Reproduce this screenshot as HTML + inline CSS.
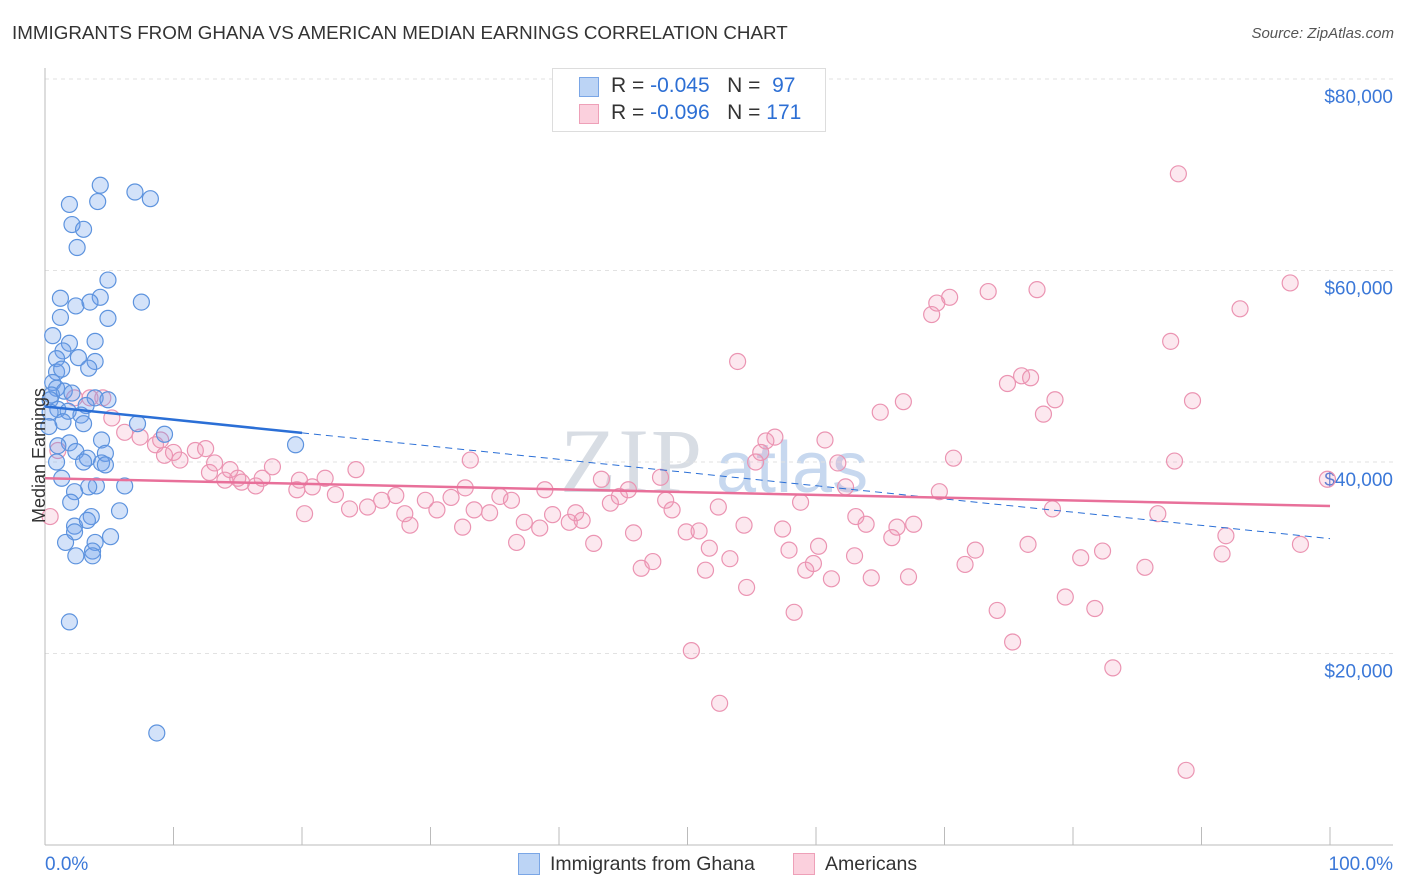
<!DOCTYPE html>
<html><head><meta charset="utf-8">
<style>
body{margin:0;background:#fff;font-family:"Liberation Sans",sans-serif;}
#wrap{position:relative;width:1406px;height:892px;overflow:hidden;}
.t{position:absolute;white-space:nowrap;}
</style></head>
<body>
<div id="wrap">
<div class="t" style="left:12px;top:22px;font-size:18.8px;color:#333;">IMMIGRANTS FROM GHANA VS AMERICAN MEDIAN EARNINGS CORRELATION CHART</div>
<div class="t" style="right:12px;top:25px;font-size:15px;color:#555;font-style:italic;">Source: ZipAtlas.com</div>
<svg id="chart" width="1406" height="892" style="position:absolute;left:0;top:0">
<text x="560" y="492" font-size="92" fill="#d8dde4" font-family="Liberation Serif" letter-spacing="2">ZIP</text>
<text x="716" y="492" font-size="72" fill="#c7d8ef" font-family="Liberation Sans">atlas</text>
</svg>
<div class="t" style="left:-28px;top:445px;font-size:18px;color:#333;transform:rotate(-90deg);">Median Earnings</div>
<div style="position:absolute;left:552px;top:68px;width:272px;height:62px;border:1px solid #ddd;background:#fff;">
 <div style="position:absolute;left:26px;top:8px;width:18px;height:18px;background:#bcd4f5;border:1px solid #7aa6e6;"></div>
 <div class="t" style="left:58px;top:5px;font-size:21px;color:#333;">R = <span style="color:#2d6fd4">-0.045</span> &nbsp;&nbsp;N = &nbsp;<span style="color:#2d6fd4">97</span></div>
 <div style="position:absolute;left:26px;top:35px;width:18px;height:18px;background:#fbd0dd;border:1px solid #eea0b8;"></div>
 <div class="t" style="left:58px;top:32px;font-size:21px;color:#333;">R = <span style="color:#2d6fd4">-0.096</span> &nbsp;&nbsp;N = <span style="color:#2d6fd4">171</span></div>
</div>
<div style="position:absolute;left:518px;top:853px;width:20px;height:20px;background:#bcd4f5;border:1px solid #7aa6e6;"></div>
<div class="t" style="left:550px;top:853px;font-size:19.5px;color:#333;">Immigrants from Ghana</div>
<div style="position:absolute;left:793px;top:853px;width:20px;height:20px;background:#fbd0dd;border:1px solid #eea0b8;"></div>
<div class="t" style="left:825px;top:853px;font-size:19.5px;color:#333;">Americans</div>
</div>
<script>
const yTicks=[20000,40000,60000,80000];
const yTickLabels=["$20,000","$40,000","$60,000","$80,000"];
const xTickLabels=["0.0%","100.0%"];
const blueX=[4.3,7.0,8.2,1.9,4.1,2.1,3.0,2.5,4.9,1.2,4.3,7.5,2.4,3.5,1.2,4.9,0.6,3.9,1.9,1.4,2.6,3.9,0.9,0.9,1.3,3.4,0.6,0.9,1.5,0.5,2.1,0.4,3.9,4.9,3.2,1.0,1.8,0.4,2.8,1.4,0.3,3.0,7.2,9.3,4.4,1.9,1.0,2.4,4.7,3.3,3.0,0.9,4.4,4.7,1.3,4.0,6.2,3.4,2.3,2.0,5.8,3.6,2.3,2.3,3.3,5.1,1.6,3.9,3.7,2.4,3.7,1.9,8.7,19.5];
const blueY=[68900,68200,67500,66900,67200,64800,64300,62400,59000,57100,57200,56700,56300,56700,55100,55000,53200,52600,52400,51600,50900,50500,50800,49400,49700,49800,48300,47700,47400,47000,47200,46500,46700,46500,45900,45500,45300,45200,44900,44200,43700,44000,44000,42900,42300,42000,41700,41100,40900,40400,40000,40000,39900,39700,38300,37500,37500,37400,36900,35800,34900,34300,33300,32700,33900,32200,31600,31600,30700,30200,30200,23300,11700,41800];
const pinkX=[88.2,96.9,77.2,73.4,70.4,69.4,69.0,93.0,87.6,53.9,76.0,76.7,74.9,78.6,66.8,89.3,77.7,65.0,56.8,56.1,60.7,55.7,70.7,61.7,55.3,87.9,99.8,69.6,62.3,45.4,43.3,47.9,52.4,58.8,78.4,86.6,63.1,63.9,67.6,66.3,54.4,57.4,50.9,49.9,48.8,48.3,65.9,72.4,76.5,91.9,97.7,91.6,82.3,80.6,71.6,85.6,63.0,60.2,57.9,51.7,53.3,59.8,59.2,51.4,46.4,47.3,61.2,64.3,67.2,54.6,79.4,81.7,74.1,58.3,75.3,50.3,83.1,52.5,88.8,13.2,14.4,15.3,16.4,17.7,19.6,19.8,20.8,21.8,22.6,24.2,23.7,25.1,26.2,27.3,28.4,29.6,30.5,31.6,32.7,33.4,34.6,35.4,36.3,37.3,38.5,39.5,40.8,41.8,42.7,44.0,44.7,45.8,36.7,32.5,28.0,20.2,38.9,41.3,33.1,0.4,4.5,3.5,2.3,5.2,6.2,7.4,8.6,9.0,10.0,10.5,11.7,12.5,9.3,1.0,12.8,14.0,15.0,16.9];
const pinkY=[70100,58700,58000,57800,57200,56600,55400,56000,52600,50500,49000,48800,48200,46500,46300,46400,45000,45200,42600,42200,42300,41000,40400,39900,40000,40100,38200,36900,37400,37100,38200,38400,35300,35800,35100,34600,34300,33500,33500,33200,33400,33000,32800,32700,35000,36000,32100,30800,31400,32300,31400,30400,30700,30000,29300,29000,30200,31200,30800,31000,29900,29400,28700,28700,28900,29600,27800,27900,28000,26900,25900,24700,24500,24300,21200,20300,18500,14800,7800,39900,39200,37900,37500,39500,37100,38100,37400,38300,36600,39200,35100,35300,36000,36500,33400,36000,35000,36300,37300,35000,34700,36400,36000,33700,33100,34500,33700,33900,31500,35700,36400,32600,31600,33200,34600,34600,37100,34700,40200,34300,46700,46700,46700,44600,43100,42600,41800,42300,41000,40200,41200,41400,40700,41200,38900,38100,38300,38300];
const blueTrend=[45800,32000];
const pinkTrend=[38300,35400];

const X0=45,X1=1330,YB=845,YT=79;
const xs=p=>X0+(X1-X0)*p/100;
const ys=v=>YB-(YB-YT)*v/80000;
const svg=document.getElementById('chart');
const NS='http://www.w3.org/2000/svg';
function mk(tag,attrs){const e=document.createElementNS(NS,tag);for(const k in attrs)e.setAttribute(k,attrs[k]);svg.appendChild(e);return e;}
yTicks.forEach((v,i)=>{
 const g=mk('line',{x1:X0,x2:1393,y1:ys(v),y2:ys(v),stroke:'#e2e2e2','stroke-dasharray':'4,4'});
 
 
 const t=mk('text',{x:1393,y:ys(v)+24,'text-anchor':'end','font-size':19,fill:'#3b78d8'});
 t.textContent=yTickLabels[i];
 
 
});
const topGrid=mk('line',{x1:X0,x2:1393,y1:YT,y2:YT,stroke:'#e2e2e2','stroke-dasharray':'4,4'});


const ya=mk('line',{x1:X0,x2:X0,y1:68,y2:YB,stroke:'#bbb'});


const xa=mk('line',{x1:X0,x2:1393,y1:YB,y2:YB,stroke:'#bbb'});


for(let i=0;i<=10;i++){
 const tk=mk('line',{x1:xs(i*10),x2:xs(i*10),y1:YB,y2:YB-18,stroke:'#bbb'});
 
 
}
[['start',45],['end',1393]].forEach((d,i)=>{
 const t=mk('text',{x:d[1],y:870,'text-anchor':d[0],'font-size':19,fill:'#3b78d8'});
 t.textContent=xTickLabels[i];
 
 
});
pinkX.forEach((x,i)=>{
 const c=mk('circle',{cx:xs(x),cy:ys(pinkY[i]),r:8,fill:'rgba(243,150,180,0.22)',stroke:'#eb94b2','stroke-width':1.2});
 
 
});
blueX.forEach((x,i)=>{
 const c=mk('circle',{cx:xs(x),cy:ys(blueY[i]),r:8,fill:'rgba(110,160,235,0.3)',stroke:'#5d93de','stroke-width':1.2});
 
 
});
const bv=p=>blueTrend[0]+(blueTrend[1]-blueTrend[0])*p/100;
const bl=mk('line',{x1:xs(0),y1:ys(bv(0)),x2:xs(20),y2:ys(bv(20)),stroke:'#2b6fd6','stroke-width':2.5});


const bd=mk('line',{x1:xs(20),y1:ys(bv(20)),x2:xs(100),y2:ys(bv(100)),stroke:'#2b6fd6','stroke-width':1,'stroke-dasharray':'7,5'});


const pl=mk('line',{x1:xs(0),y1:ys(pinkTrend[0]),x2:xs(100),y2:ys(pinkTrend[1]),stroke:'#e8709a','stroke-width':2.5});


</script>
</body></html>
